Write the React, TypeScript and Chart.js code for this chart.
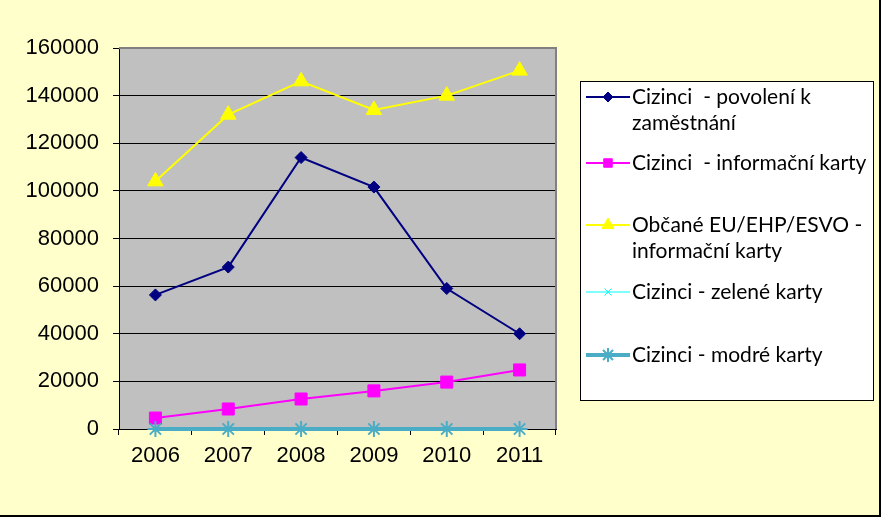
import React, { useEffect, useRef } from "react";
import { Chart, registerables } from "chart.js";
import { drawPoint } from "chart.js/helpers";

Chart.register(...registerables);

const years = ["2006", "2007", "2008", "2009", "2010", "2011"];
const povoleniKZamestnani = [56300, 68000, 114000, 101600, 59000, 40000];
const informacniKarty = [4600, 8400, 12600, 16000, 19700, 24800];
const obcaneEU = [104000, 132000, 146000, 134000, 140000, 150500];
const zeleneKarty = [0, 0, 0, 0, 0, 0];
const modreKarty = [0, 0, 0, 0, 0, 0];
const yTickValues = [0, 20000, 40000, 60000, 80000, 100000, 120000, 140000, 160000];

const seriesNames: string[][] = [
  ["Cizinci  - povolení k", "zaměstnání"],
  ["Cizinci  - informační karty"],
  ["Občané EU/EHP/ESVO -", "informační karty"],
  ["Cizinci - zelené karty"],
  ["Cizinci - modré karty"],
];

const W = 881;
const H = 517;

const legendRowBaselines = [104, 170, 232, 299, 362];
const legendMarkerRadius = [5, 6, 7, 5, 7];

export default function App() {
  const ref = useRef<HTMLCanvasElement | null>(null);

  useEffect(() => {
    const canvas = ref.current;
    if (!canvas) return;

    const bgPlugin = {
      id: "bgPlugin",
      beforeDraw(chart: any) {
        const { ctx, chartArea } = chart;
        ctx.save();
        ctx.fillStyle = "#FFFFCC";
        ctx.fillRect(0, 0, W, H);
        ctx.fillStyle = "#C0C0C0";
        ctx.fillRect(chartArea.left, chartArea.top, chartArea.right - chartArea.left, chartArea.bottom - chartArea.top);
        ctx.restore();
      },
      beforeDatasetsDraw(chart: any) {
        const { ctx, chartArea } = chart;
        ctx.save();
        ctx.strokeStyle = "#808080";
        ctx.lineWidth = 2;
        ctx.beginPath();
        ctx.moveTo(chartArea.left, chartArea.top);
        ctx.lineTo(chartArea.right, chartArea.top);
        ctx.lineTo(chartArea.right, chartArea.bottom);
        ctx.stroke();
        ctx.restore();
      },
      afterDraw(chart: any) {
        const { ctx } = chart;
        ctx.save();
        ctx.strokeStyle = "#000";
        ctx.lineWidth = 2;
        ctx.beginPath();
        ctx.moveTo(W - 1, 0);
        ctx.lineTo(W - 1, H - 1);
        ctx.lineTo(0, H - 1);
        ctx.stroke();

        const lx = 580, ly = 81, lw = 293, lh = 319;
        ctx.fillStyle = "#FFFFFF";
        ctx.fillRect(lx, ly, lw, lh);
        ctx.strokeStyle = "#000";
        ctx.lineWidth = 1;
        ctx.strokeRect(lx + 0.5, ly + 0.5, lw, lh);

        ctx.font = "21px Lato";
        ctx.textBaseline = "alphabetic";
        ctx.textAlign = "left";
        chart.data.datasets.forEach((ds: any, i: number) => {
          const base = legendRowBaselines[i];
          const cy = base - 7;
          ctx.strokeStyle = ds.borderColor;
          ctx.lineWidth = ds.borderWidth;
          ctx.beginPath();
          ctx.moveTo(586, cy);
          ctx.lineTo(630, cy);
          ctx.stroke();
          ctx.fillStyle = ds.pointBackgroundColor;
          ctx.strokeStyle = ds.pointBorderColor;
          ctx.lineWidth = ds.pointBorderWidth;
          drawPoint(ctx, { pointStyle: ds.pointStyle, radius: legendMarkerRadius[i], rotation: 0, borderWidth: ds.pointBorderWidth } as any, 608, cy);
          ctx.fillStyle = "#000";
          seriesNames[i].forEach((line, j) => {
            ctx.fillText(line, 632, base + j * 26);
          });
        });
        ctx.restore();
      },
    };

    const mk = (label: string, data: number[], color: string, width: number, style: string, radius: number, bw: number, order: number) => ({
      label,
      data,
      borderColor: color,
      backgroundColor: color,
      borderWidth: width,
      pointStyle: style,
      pointRadius: radius,
      pointHoverRadius: radius,
      pointBackgroundColor: color,
      pointBorderColor: color,
      pointBorderWidth: bw,
      tension: 0,
      clip: false,
      order,
    });

    const chart = new Chart(canvas, {
      type: "line",
      data: {
        labels: years,
        datasets: [
          mk(seriesNames[0].join(" "), povoleniKZamestnani, "#000080", 2, "rectRot", 6, 1, 4),
          mk(seriesNames[1].join(" "), informacniKarty, "#FF00FF", 2, "rect", 8.5, 1, 3),
          mk(seriesNames[2].join(" "), obcaneEU, "#FFFF00", 2, "triangle", 9, 1, 2),
          mk(seriesNames[3].join(" "), zeleneKarty, "#00FFFF", 1, "crossRot", 6, 1, 1),
          mk(seriesNames[4].join(" "), modreKarty, "#4BACC6", 4, "star", 8, 2, 0),
        ] as any,
      },
      plugins: [bgPlugin],
      options: {
        responsive: false,
        animation: false,
        devicePixelRatio: 1,
        layout: { padding: { left: 0, top: 48, right: 325, bottom: 0 } },
        plugins: {
          legend: { display: false },
          tooltip: { enabled: false },
        },
        scales: {
          x: {
            type: "category",
            offset: true,
            grid: {
              offset: true,
              drawOnChartArea: false,
              drawTicks: true,
              tickLength: 6,
              tickColor: "#000",
            },
            border: { color: "#000", width: 1 },
            ticks: {
              color: "#000",
              font: { family: "Liberation Sans", size: 22 },
              padding: 8,
              maxRotation: 0,
              autoSkip: false,
            },
            afterFit(scale: any) {
              scale.height = H - 429;
            },
          },
          y: {
            min: 0,
            max: 160000,
            afterBuildTicks(scale: any) {
              scale.ticks = yTickValues.map((v) => ({ value: v }));
            },
            grid: {
              color: (c: any) => (c.tick && c.tick.value === 160000 ? "#808080" : "#000"),
              lineWidth: 1,
              drawTicks: true,
              tickLength: 6,
              tickColor: "#000",
            },
            border: { color: "#000", width: 1 },
            ticks: {
              color: "#000",
              font: { family: "Liberation Sans", size: 22 },
              padding: 14,
              callback: (v: any) => String(v),
            },
            afterFit(scale: any) {
              scale.width = 119;
            },
          },
        },
      },
    } as any);

    return () => chart.destroy();
  }, []);

  return (
    <div style={{ position: "fixed", left: 0, top: 0, width: W, height: H }}>
      <canvas ref={ref} width={W} height={H} style={{ display: "block", width: W, height: H }} />
    </div>
  );
}
